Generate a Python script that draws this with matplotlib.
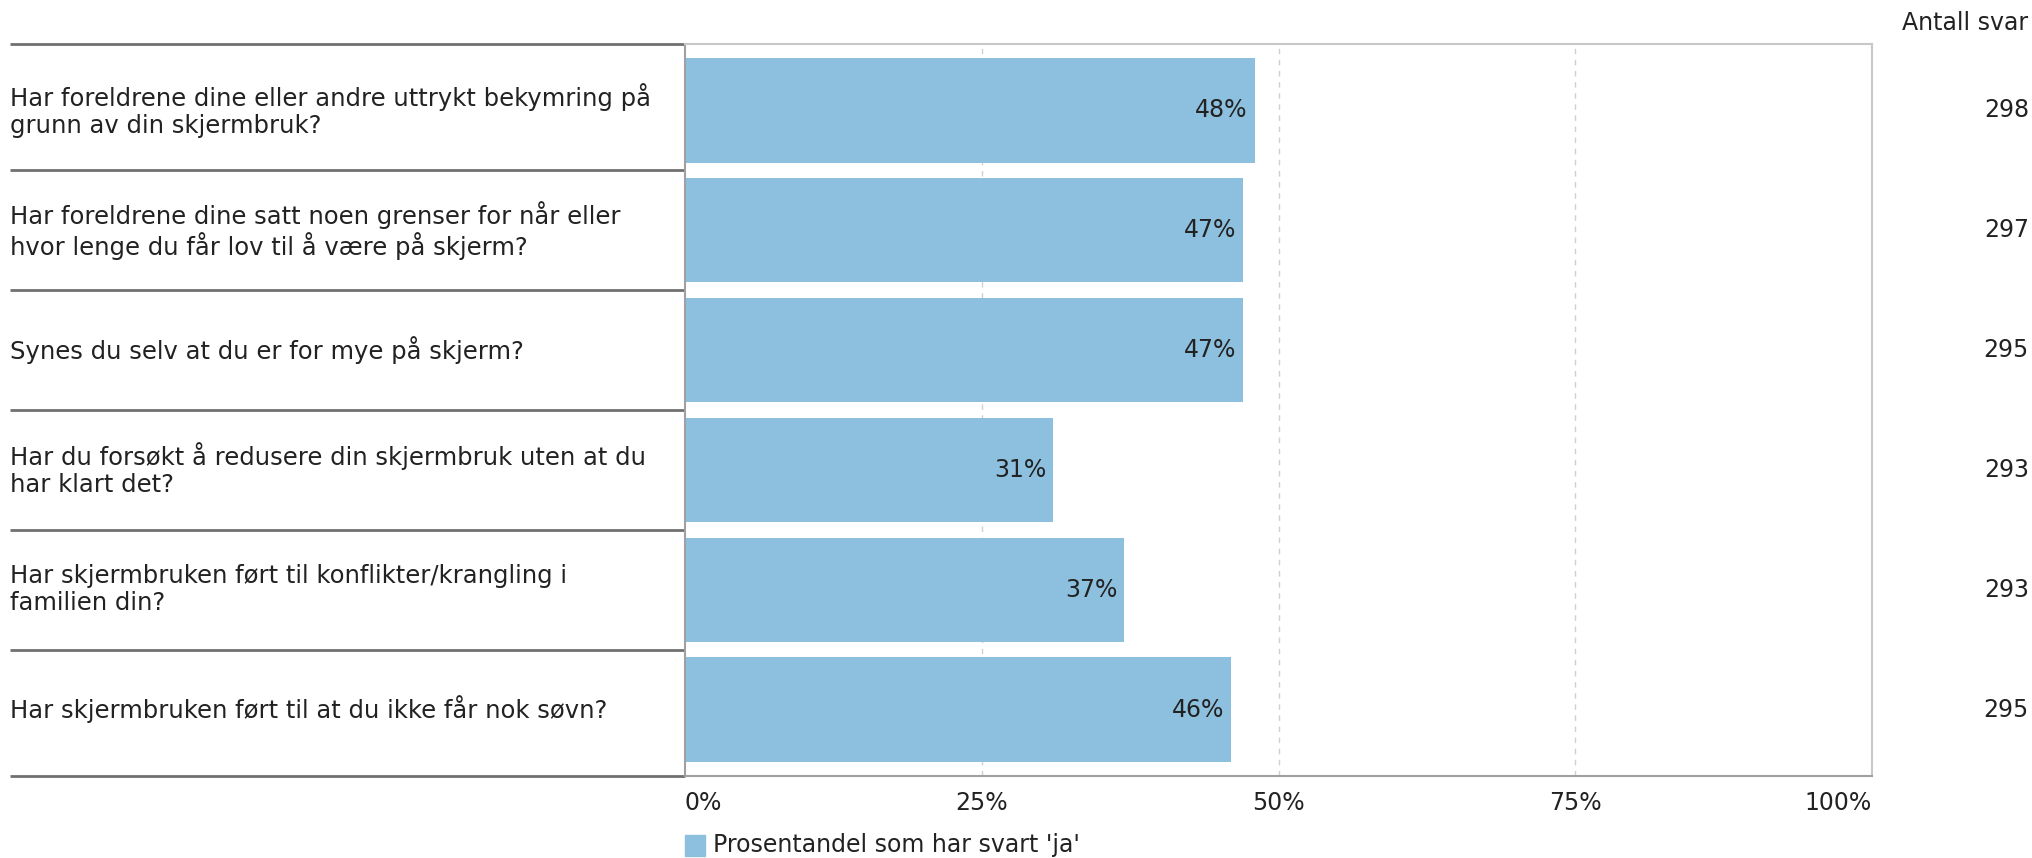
import matplotlib
matplotlib.use('Agg')
import matplotlib.pyplot as plt
import matplotlib.transforms as mtransforms
from matplotlib.patches import Rectangle

questions = [
    "Har foreldrene dine eller andre uttrykt bekymring på\ngrunn av din skjermbruk?",
    "Har foreldrene dine satt noen grenser for når eller\nhvor lenge du får lov til å være på skjerm?",
    "Synes du selv at du er for mye på skjerm?",
    "Har du forsøkt å redusere din skjermbruk uten at du\nhar klart det?",
    "Har skjermbruken ført til konflikter/krangling i\nfamilien din?",
    "Har skjermbruken ført til at du ikke får nok søvn?",
]
pct_yes = [48, 47, 47, 31, 37, 46]
n_answers = [298, 297, 295, 293, 293, 295]
xticks = [0, 25, 50, 75, 100]
legend_label = "Prosentandel som har svart 'ja'"

W, H = 2033, 858
bar_color = '#8DC0DF'
txt = '#222222'
fs = 17

plt.rcParams['font.family'] = ['DejaVu Sans']
fig = plt.figure(figsize=(W / 100, H / 100), dpi=100)
ax = fig.add_axes([685 / W, 1 - 776 / H, (1872 - 685) / W, (776 - 44) / H])

y = list(range(len(questions)))
pad = 0.555
ax.barh(y, pct_yes, height=0.87, color=bar_color, zorder=2)
ax.set_xlim(0, 100)
ax.set_ylim(len(questions) - 1 + pad, -pad)

for v in xticks[1:-1]:
    ax.axvline(v, color='#d0d0d0', lw=1, ls=(0, (4, 4)), zorder=1)

for s in ['top', 'right']:
    ax.spines[s].set_color('#c8c8c8')
for s in ['left', 'bottom']:
    ax.spines[s].set_color('#a0a0a0')
for s in ax.spines.values():
    s.set_linewidth(1.5)

ax.set_yticks([])
ax.set_xticks(xticks)
ax.tick_params(axis='x', length=0, pad=11, labelsize=fs, labelcolor=txt)
ax.set_xticklabels([f"{v}%" for v in xticks])
labels = ax.get_xticklabels()
labels[0].set_ha('left')
labels[-1].set_ha('right')

# value labels inside bar ends
for yi, v in zip(y, pct_yes):
    ax.annotate(f"{v}%", (v, yi), xytext=(-5, 0), textcoords='offset points',
                ha='right', va='center', fontsize=fs, color=txt, zorder=3)

# left question labels and separators
trans = mtransforms.blended_transform_factory(fig.transFigure, ax.transData)
for yi, q in zip(y, questions):
    ax.text(10 / W, yi, q, transform=trans, ha='left', va='center',
            fontsize=17.5, color=txt, linespacing=1.15)
seps = [-pad] + [i + 0.5 for i in range(len(questions) - 1)] + [len(questions) - 1 + pad]
for b in seps:
    ax.plot([10 / W, 685 / W], [b, b], transform=trans, color='#707070',
            lw=2, clip_on=False, solid_capstyle='butt')

# answer counts on the right
for yi, n in zip(y, n_answers):
    ax.text(2029 / W, yi, str(n), transform=trans, ha='right', va='center',
            fontsize=fs, color=txt)
fig.text(2028 / W, 1 - 23 / H, "Antall svar", ha='right', va='center',
         fontsize=fs, color=txt)

# legend
fig.patches.append(Rectangle((685 / W, 1 - 856 / H), 20 / W, 21 / H,
                             transform=fig.transFigure, color=bar_color))
fig.text(713 / W, 1 - 845 / H, legend_label, ha='left', va='center',
         fontsize=fs, color=txt)

fig.savefig('out.png', dpi=100, facecolor='white')
